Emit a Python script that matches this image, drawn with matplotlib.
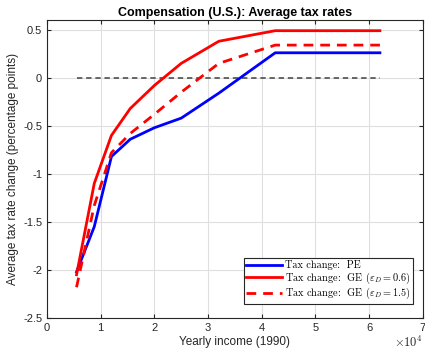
import matplotlib
matplotlib.use("Agg")
import matplotlib.pyplot as plt
import numpy as np

plt.rcParams['font.family'] = ['Liberation Sans', 'DejaVu Sans']
plt.rcParams['mathtext.fontset'] = 'cm'

income = [5500, 8800, 12000, 15500, 20000, 25000, 32000, 42500, 62000]
pe = [-2.02, -1.55, -0.82, -0.64, -0.52, -0.42, -0.16, 0.26, 0.26]
ge06 = [-2.05, -1.10, -0.60, -0.32, -0.08, 0.15, 0.38, 0.49, 0.49]
ge15 = [-2.18, -1.33, -0.78, -0.58, -0.38, -0.15, 0.15, 0.34, 0.34]
zero_x = [5500, 62000]
zero_y = [0, 0]

title = "Compensation (U.S.): Average tax rates"
xlabel = "Yearly income (1990)"
ylabel = "Average tax rate change (percentage points)"
labels = ["Tax change:  PE",
          r"Tax change:  GE ($\varepsilon_D = 0.6$)",
          r"Tax change:  GE ($\varepsilon_D = 1.5$)"]
xticks = [0, 1, 2, 3, 4, 5, 6, 7]
yticks = [-2.5, -2, -1.5, -1, -0.5, 0, 0.5]
yticklabels = ["-2.5", "-2", "-1.5", "-1", "-0.5", "0", "0.5"]

fig = plt.figure(figsize=(4.25, 3.53), dpi=100)
ax = fig.add_axes([0.1106, 0.0992, 0.8844, 0.8438])

ax.plot(zero_x, zero_y, color='#404040', linestyle=(0, (3.5, 2.5)), linewidth=1.1)
ax.plot(income, pe, color='#0000ff', linewidth=2, label=labels[0])
ax.plot(income, ge06, color='#ff0000', linewidth=2, label=labels[1])
ax.plot(income, ge15, color='#ff0000', linewidth=2, linestyle=(0, (3.5, 2.5)), label=labels[2])

ax.set_xlim(0, 70000)
ax.set_ylim(-2.5, 0.6)
ax.set_xticks([t * 1e4 for t in xticks])
ax.set_xticklabels([str(t) for t in xticks])
ax.set_yticks(yticks)
ax.set_yticklabels(yticklabels)
ax.tick_params(direction='in', labelsize=8, colors='#262626', length=3,
               top=True, right=True)
for s in ax.spines.values():
    s.set_color('#262626')
    s.set_linewidth(0.8)
ax.grid(True, color='#dfdfdf', linewidth=0.8)
ax.set_axisbelow(True)

ax.set_title(title, fontsize=9, fontweight='bold', color='black', pad=3)
ax.set_xlabel(xlabel, fontsize=8.5, color='#262626', labelpad=2)
ax.set_ylabel(ylabel, fontsize=8.5, color='#262626', labelpad=3)
ax.text(1.0, -0.058, r"$\times 10^4$", transform=ax.transAxes, fontsize=9,
        color='#262626', ha='right', va='top',
        fontfamily='DejaVu Sans')

leg = ax.legend(loc='lower right', bbox_to_anchor=(0.98, 0.04),
                prop={'family': 'cmr10', 'size': 7.4}, frameon=True,
                fancybox=False, edgecolor='#262626', framealpha=1,
                handlelength=3.5, handletextpad=0.3, borderpad=0.25,
                labelspacing=0.02, borderaxespad=0.2)
leg.get_frame().set_linewidth(0.8)

fig.savefig("out.png", dpi=100)
